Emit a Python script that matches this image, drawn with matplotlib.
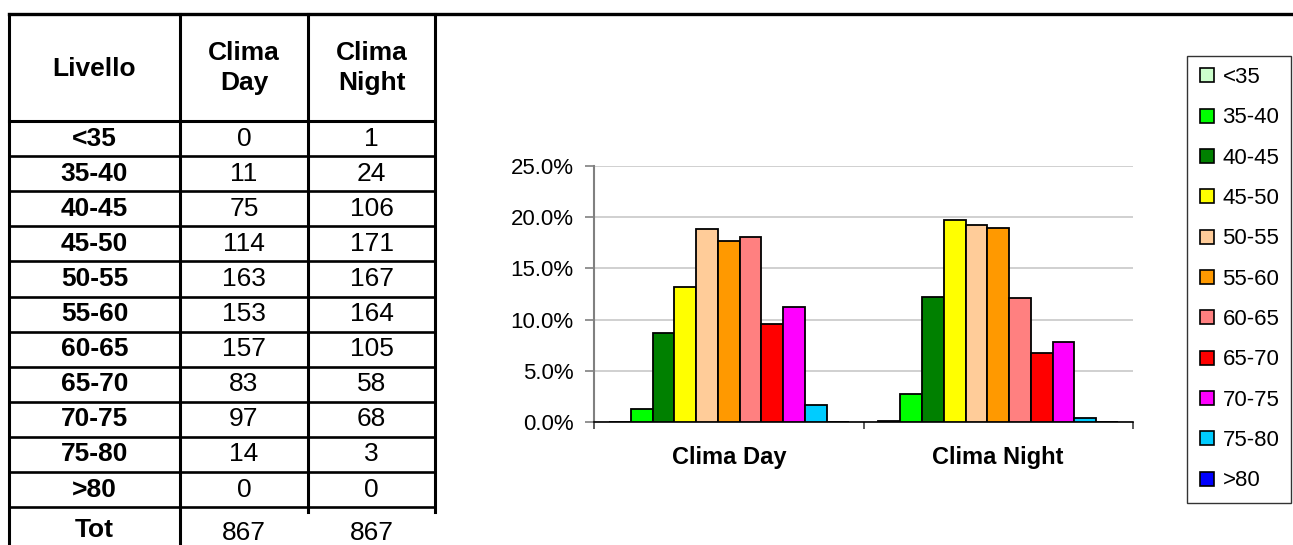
import numpy as np
from matplotlib import pyplot as plt
from matplotlib.lines import Line2D

plt.rcParams['font.family'] = ['Liberation Sans', 'DejaVu Sans']

# dati
livelli = ['<35', '35-40', '40-45', '45-50', '50-55', '55-60',
           '60-65', '65-70', '70-75', '75-80', '>80']
clima_day = [0, 11, 75, 114, 163, 153, 157, 83, 97, 14, 0]
clima_night = [1, 24, 106, 171, 167, 164, 105, 58, 68, 3, 0]
gruppi = ['Clima Day', 'Clima Night']
colori = ['#CCFFCC', '#00FF00', '#008000', '#FFFF00', '#FFCC99', '#FF9900',
          '#FF8080', '#FF0000', '#FF00FF', '#00CCFF', '#0000FF']

W, H = 1293, 545
fig = plt.figure(figsize=(W / 100, H / 100), dpi=100)

def fx(x):
    return x / W

def fy(y):
    return 1 - y / H

def linea(x0, y0, x1, y1, lw=2.0):
    fig.add_artist(Line2D([fx(x0), fx(x1)], [fy(y0), fy(y1)], color='black',
                          lw=lw, solid_capstyle='projecting'))

# --- tabella ---
tot_day = sum(clima_day)
tot_night = sum(clima_night)
xc = [94.5, 244, 371.5]
linea(9, 14, 1293, 14, lw=2.4)
linea(9, 14, 9, 545, lw=2.2)
linea(180, 14, 180, 545, lw=2.2)
linea(308, 14, 308, 512, lw=2.2)
linea(435, 14, 435, 512, lw=2.2)
linea(9, 121, 435, 121, lw=2.2)
row_h = 35.1
for k in range(1, 12):
    y = 121 + row_h * k
    linea(9, y, 435, y, lw=1.9)

fs = 19
fig.text(fx(xc[0]), fy(69), 'Livello', ha='center', va='center',
         fontsize=fs, fontweight='bold')
fig.text(fx(xc[1]), fy(68), 'Clima\nDay', ha='center', va='center',
         fontsize=fs, fontweight='bold', linespacing=1.3)
fig.text(fx(xc[2]), fy(68), 'Clima\nNight', ha='center', va='center',
         fontsize=fs, fontweight='bold', linespacing=1.3)
for i, liv in enumerate(livelli):
    yc = 121 + row_h * i + row_h / 2
    fig.text(fx(xc[0]), fy(yc), liv, ha='center', va='center',
             fontsize=fs, fontweight='bold')
    fig.text(fx(xc[1]), fy(yc), str(clima_day[i]), ha='center', va='center',
             fontsize=fs)
    fig.text(fx(xc[2]), fy(yc), str(clima_night[i]), ha='center', va='center',
             fontsize=fs)
fig.text(fx(xc[0]), fy(530), 'Tot', ha='center', va='center',
         fontsize=fs, fontweight='bold')
fig.text(fx(xc[1]), fy(533), str(tot_day), ha='center', va='center', fontsize=fs)
fig.text(fx(xc[2]), fy(533), str(tot_night), ha='center', va='center', fontsize=fs)

# --- grafico ---
ax = fig.add_axes([fx(594), fy(422), (1133 - 594) / W, (422 - 166) / H])
perc_day = np.array(clima_day) / tot_day
perc_night = np.array(clima_night) / tot_night
n = len(livelli)
w = 240 / 270 / n
x = np.arange(len(gruppi))
for i in range(n):
    vals = [perc_day[i], perc_night[i]]
    ax.bar(x + (i - (n - 1) / 2) * w, vals, width=w, color=colori[i],
           edgecolor='black', linewidth=1.3, zorder=3)

ax.set_xlim(-0.5, 1.5)
ax.set_ylim(0, 0.25)
ax.set_yticks([0, 0.05, 0.10, 0.15, 0.20, 0.25])
ax.set_yticklabels([f'{v * 100:.1f}%' for v in [0, 0.05, 0.10, 0.15, 0.20, 0.25]])
ax.yaxis.grid(True, color='#c8c8c8', lw=1.2, zorder=0)
ax.set_axisbelow(True)
ax.set_xticks(x)
ax.set_xticklabels(gruppi, fontweight='bold', fontsize=17)
ax.set_xticks([-0.5, 0.5, 1.5], minor=True)
ax.tick_params(axis='x', which='major', length=0, pad=17)
ax.tick_params(axis='x', which='minor', length=5, width=1.2, direction='out',
               color='#404040')
ax.tick_params(axis='y', length=6.5, width=1.2, color='#808080', pad=8,
               labelsize=16)
for s in ['top', 'right']:
    ax.spines[s].set_visible(False)
ax.spines['left'].set_color('#808080')
ax.spines['left'].set_linewidth(1.5)
ax.spines['bottom'].set_color('black')
ax.spines['bottom'].set_linewidth(1.2)

# legenda
maniglie = [Line2D([], [], marker='s', linestyle='', markerfacecolor=c,
                   markeredgecolor='black', markersize=9.5, markeredgewidth=1.2)
            for c in colori]
leg = fig.legend(maniglie, livelli, loc='upper left',
                 bbox_to_anchor=(fx(1187), fy(56)), borderaxespad=0,
                 fontsize=16, frameon=True, fancybox=False, edgecolor='black',
                 borderpad=0.5, handlelength=0.8, handletextpad=0.3,
                 labelspacing=0.87)
leg.get_frame().set_linewidth(1.0)

fig.savefig('out.png', dpi=100)
